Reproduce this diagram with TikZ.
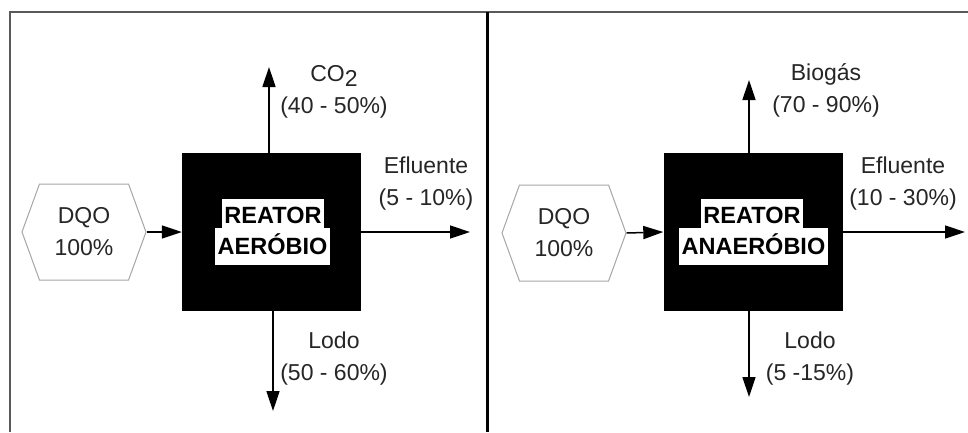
\documentclass[tikz,border=0pt]{standalone}
\usepackage{fontspec}
\setmainfont{Liberation Sans}
\usetikzlibrary{arrows.meta,shapes.symbols}

\begin{document}
\begin{tikzpicture}[x=1pt,y=-1pt,>={Triangle[length=20pt,width=13pt]},
  every node/.style={font=\fontsize{23}{32}\selectfont,text=black!85},
  flow/.style={->,line width=1.5pt},
  feed/.style={signal,signal to=west and east,signal pointer angle=140,
    draw=gray!70,line width=1pt,minimum width=124pt,minimum height=96pt,
    inner sep=0pt,align=center},
  reactor/.style={fill=black,minimum width=179pt,minimum height=158pt,inner sep=0pt},
  tag/.style={fill=white,inner xsep=2.5pt,inner ysep=2pt,anchor=base,text=black,
    font=\fontsize{23.5}{26}\selectfont\bfseries},
  stream/.style={align=center}]
  \useasboundingbox[fill=white] (0,0) rectangle (968,432);
  % frame and divider
  \draw[gray!70!black,line width=2pt] (10,432) -- (10,12) -- (968,12);
  \draw[line width=3pt] (487,12) -- (487,432);

  % aerobic reactor
  \node[feed] (dqoA) at (84,232) {DQO\\100\%};
  \node[reactor] (reactorA) at (271.5,232) {};
  \node[tag,text height=22pt,text depth=3pt] (topA) at (273,223) {REATOR};
  \node[tag,text height=24pt,text depth=9pt] (botA) at (272.5,254) {AERÓBIO};
  \coordinate (co2A) at (269,67);
  \coordinate (effA) at (470,232);
  \coordinate (sludgeA) at (273,411);
  \draw[flow] (dqoA.east) -- (reactorA.west);
  \draw[flow] (reactorA.north -| co2A) -- (co2A);
  \draw[flow] (reactorA.east) -- (effA);
  \draw[flow] (reactorA.south -| sludgeA) -- (sludgeA);
  \node[stream] (co2textA) at (334,92) {CO\raisebox{-5pt}{2}\\(40 - 50\%)};
  \node[stream] (efftextA) at (426,184) {Efluente\\(5 - 10\%)};
  \node[stream] (sludgetextA) at (334,359) {Lodo\\(50 - 60\%)};

  % anaerobic reactor
  \node[feed] (dqoB) at (564,233) {DQO\\100\%};
  \node[reactor] (reactorB) at (753,232) {};
  \node[tag,text height=22pt,text depth=3pt] (topB) at (752,223) {REATOR};
  \node[tag,text height=24pt,text depth=9pt] (botB) at (753.5,254) {ANAERÓBIO};
  \coordinate (gasB) at (749,80);
  \coordinate (effB) at (965,232);
  \coordinate (sludgeB) at (749,397);
  \draw[flow] (dqoB.east) -- (reactorB.west);
  \draw[flow] (reactorB.north -| gasB) -- (gasB);
  \draw[flow] (reactorB.east) -- (effB);
  \draw[flow] (reactorB.south -| sludgeB) -- (sludgeB);
  \node[stream] (gastextB) at (826,90) {Biogás\\(70 - 90\%)};
  \node[stream] (efftextB) at (903,184) {Efluente\\(10 - 30\%)};
  \node[stream] (sludgetextB) at (810,359) {Lodo\\(5 -15\%)};
\end{tikzpicture}
\end{document}
